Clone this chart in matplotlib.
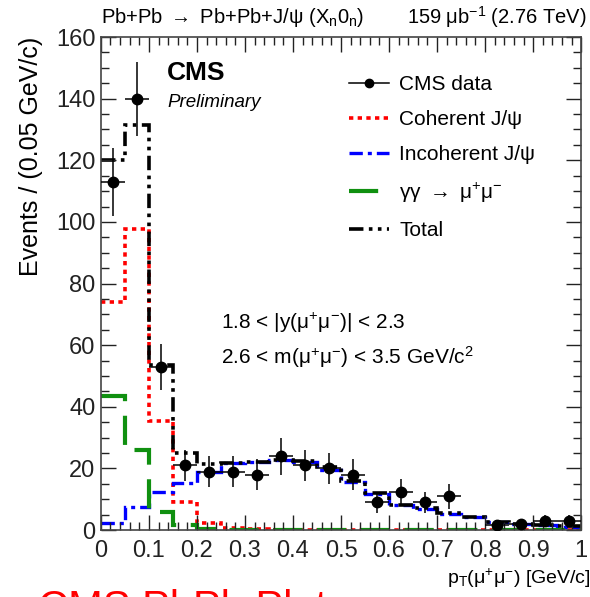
"""CMS J/psi pT spectrum in ultra-peripheral PbPb (XnOn) - recreation."""
import numpy as np
import matplotlib
matplotlib.use("Agg")
import matplotlib.pyplot as plt
from matplotlib.lines import Line2D

# bins of 0.05 GeV/c
bin_edges = np.linspace(0.0, 1.0, 21)
bin_centers = 0.5 * (bin_edges[:-1] + bin_edges[1:])

data_counts = [113, 140, 53, 21, 19, 19, 18, 24, 21, 20,
               18, 9, 12.5, 9, 11, 0, 1.6, 2, 3, 3]
data_err = [11, 12, 7.5, 5, 5, 5, 5, 6, 5, 5,
            5, 3.5, 4, 3.5, 4, 0, 1.5, 1.5, 2, 2]

coherent = [74, 97.7, 35.4, 9, 2.2, 0.7, 0.3, 0.15, 0.1, 0.05,
            0.03, 0.02, 0.01, 0, 0, 0, 0, 0, 0, 0]
incoherent = [2.2, 7.5, 12.5, 15.3, 19, 21.7, 22, 22.7, 22, 19.5,
              15.6, 11.7, 8, 7, 5.2, 4.3, 2.6, 2, 1.6, 1.1]
gamma_gamma = [43.5, 26, 5.8, 1.6, 0.3, 0.1, 0, 0, 0, 0,
               0, 0, 0, 0, 0, 0, 0, 0, 0, 0]
total = [120, 131.5, 53.5, 25, 21.5, 21.7, 22.2, 22.7, 22.5, 20.5,
         16, 12, 8.2, 7.2, 5.4, 4.4, 2.7, 2.1, 1.7, 1.2]

plt.rcParams["font.family"] = ["Liberation Sans", "DejaVu Sans"]
plt.rcParams["mathtext.fontset"] = "custom"
plt.rcParams["mathtext.rm"] = "Liberation Sans"
plt.rcParams["mathtext.it"] = "Liberation Sans:italic"

fig = plt.figure(figsize=(5.9, 5.97), dpi=100)
ax = fig.add_axes([0.171, 0.112, 0.814, 0.826])

# histograms
ax.stairs(coherent, bin_edges, baseline=None, color="red", lw=2.6,
          linestyle=(0, (1.2, 1.2)), label="Coherent J/ψ")
ax.stairs(incoherent, bin_edges, baseline=None, color="blue", lw=2.4,
          linestyle=(0, (4, 1.5, 1.2, 1.5)), label="Incoherent J/ψ")
ax.stairs(gamma_gamma, bin_edges, baseline=None, color="#109010", lw=3,
          linestyle=(0, (7, 3.5)), label="γγ $\\rightarrow$ μ$^{+}$μ$^{-}$")
ax.stairs(total, bin_edges, baseline=None, color="black", lw=2.6,
          linestyle=(0, (4, 1.5, 1, 1.5, 1, 1.5)), label="Total")

# data
counts = np.array(data_counts, dtype=float)
errs = np.array(data_err, dtype=float)
mask = counts > 0
ax.errorbar(bin_centers[mask], counts[mask], xerr=0.025, yerr=errs[mask],
            fmt="o", color="black", ms=7.5, elinewidth=1.1, capsize=0,
            zorder=5)

ax.set_xlim(0, 1)
ax.set_ylim(0, 160)
ax.set_xticks(np.arange(0, 1.01, 0.1))
ax.set_xticklabels(["0", "0.1", "0.2", "0.3", "0.4", "0.5", "0.6",
                    "0.7", "0.8", "0.9", "1"])
ax.set_xticks(np.arange(0, 1.001, 0.02), minor=True)
ax.set_yticks(np.arange(0, 161, 20))
ax.set_yticks(np.arange(0, 161, 5), minor=True)
ax.tick_params(which="both", direction="in", top=True, right=True,
               labelsize=17, colors="#222222")
ax.tick_params(which="major", length=11, width=1)
ax.tick_params(which="minor", length=6, width=1)
ax.tick_params(axis="x", pad=7)
ax.tick_params(axis="y", pad=4)
for s in ax.spines.values():
    s.set_color("#444444")
    s.set_linewidth(1.2)

ax.set_ylabel("Events / (0.05 GeV/c)", fontsize=18, loc="top")
ax.yaxis.set_label_coords(-0.12, 1.0)
ax.set_xlabel("p$_{\\mathrm{T}}$(μ$^{+}$μ$^{-}$) [GeV/c]", fontsize=14, loc="right")
ax.xaxis.set_label_coords(1.02, -0.075)

# header
fig.text(0.172, 0.971,
         "Pb+Pb $\\rightarrow$ Pb+Pb+J/ψ (X$_{\\mathrm{n}}$0$_{\\mathrm{n}}$)",
         fontsize=14.5, ha="left", va="center")
fig.text(0.995, 0.971, "159 μb$^{-1}$ (2.76 TeV)", fontsize=14.5,
         ha="right", va="center")

ax.text(0.138, 0.928, "CMS", transform=ax.transAxes, fontsize=19,
        fontweight="bold", ha="left", va="center")
ax.text(0.138, 0.868, "Preliminary", transform=ax.transAxes, fontsize=13.5,
        style="italic", ha="left", va="center")

ax.text(0.25, 0.42, "1.8 < |y(μ$^{+}$μ$^{-}$)| < 2.3", transform=ax.transAxes,
        fontsize=15, ha="left", va="center")
ax.text(0.25, 0.352, "2.6 < m(μ$^{+}$μ$^{-}$) < 3.5 GeV/c$^{2}$",
        transform=ax.transAxes, fontsize=15, ha="left", va="center")

# legend
data_handle = Line2D([], [], color="black", marker="o", ms=6, lw=1.1)
handles, labels = ax.get_legend_handles_labels()
ax.legend([data_handle] + handles, ["CMS data"] + labels,
          loc="upper left", bbox_to_anchor=(0.5, 0.94), frameon=False,
          fontsize=15, handlelength=1.9, handletextpad=0.5,
          labelspacing=0.78, borderaxespad=0)

# slide title cut off at the bottom of the screenshot
fig.text(0.065, 0.014, "CMS PbPb Plots", color="red", fontsize=30,
         ha="left", va="top")

fig.savefig("out.png", dpi=100)
